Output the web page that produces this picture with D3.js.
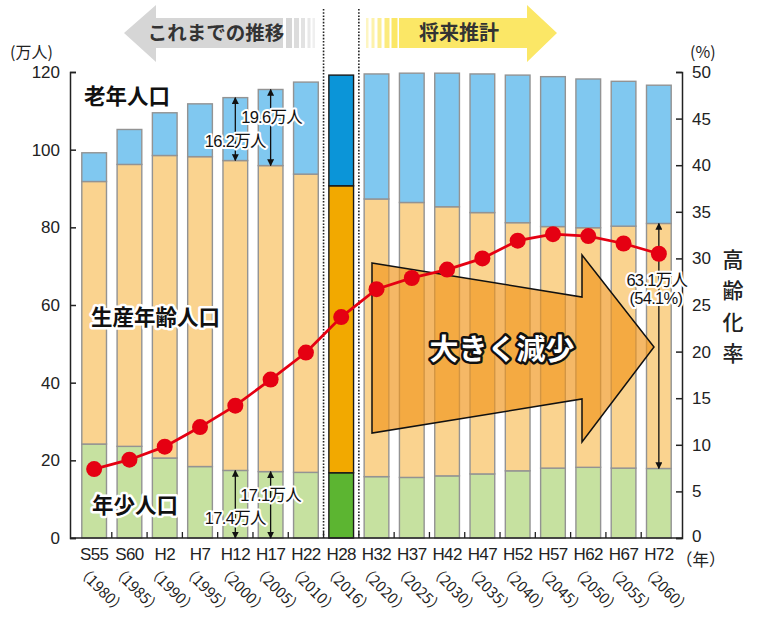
<!DOCTYPE html>
<html>
<head>
<meta charset="utf-8">
<script src="https://cdn.jsdelivr.net/npm/d3@7/dist/d3.min.js"></script>
<style>
  html, body { margin: 0; padding: 0; background: #fff; }
  svg { display: block; }
  text { font-family: "Liberation Sans", "Noto Sans CJK JP", sans-serif; }
  .jp { font-family: "Noto Sans CJK JP", sans-serif; }
</style>
</head>
<body>
<svg id="chart" width="758" height="622"></svg>
<script>
// Period labels (Japanese era) and western years
const eraLabels = ["S55","S60","H2","H7","H12","H17","H22","H28","H32","H37","H42","H47","H52","H57","H62","H67","H72"];
const westernYears = ["1980","1985","1990","1995","2000","2005","2010","2016","2020","2025","2030","2035","2040","2045","2050","2055","2060"];

// Population by age group (万人)
const youngPop   = [24.2, 23.6, 20.6, 18.4, 17.4, 17.1, 16.9, 16.8, 15.8, 15.6, 16.0, 16.5, 17.3, 18.0, 18.2, 18.0, 17.9];
const workingPop = [67.6, 72.6, 77.9, 79.8, 79.8, 78.8, 76.8, 73.9, 71.5, 70.8, 69.3, 67.3, 63.9, 62.2, 61.7, 62.3, 63.1];
const elderlyPop = [ 7.4,  9.0, 11.0, 13.6, 16.2, 19.6, 23.7, 28.5, 32.2, 33.3, 34.4, 35.7, 38.0, 38.6, 38.3, 37.3, 35.6];

// Aging rate (%)
const agingRate  = [7.4, 8.4, 9.8, 11.9, 14.2, 17.0, 19.9, 23.7, 26.7, 27.9, 28.8, 30.0, 31.9, 32.6, 32.4, 31.6, 30.5];

const leftTicks  = [0, 20, 40, 60, 80, 100, 120];
const rightTicks = [0, 5, 10, 15, 20, 25, 30, 35, 40, 45, 50];

const currentYear = "H28";

const svg = d3.select("#chart");

const x = d3.scaleBand().domain(eraLabels).range([76.5, 676.5]).paddingInner(0.3).paddingOuter(0.15);
const y = d3.scaleLinear().domain([0, 120]).range([538, 72]);
const yR = d3.scaleLinear().domain([0, 50]).range([538, 72]);
const step = x.step();
const bw = x.bandwidth();
const cx = d => x(d) + bw / 2;

const rows = eraLabels.map((e, i) => ({ era: e, young: youngPop[i], working: workingPop[i], elderly: elderlyPop[i] }));
const keys = ["young", "working", "elderly"];
const stack = d3.stack().keys(keys)(rows);

const lightColors = { young: "#c6e1a0", working: "#fad38f", elderly: "#80c8f0" };
const strongColors = { young: "#5cb531", working: "#f2a900", elderly: "#0b95d8" };

// ---- header arrows ----
const hdr = svg.append("g");
// past (grey, pointing left)
hdr.append("path")
  .attr("d", "M124,33 L156,5 L156,18 L283,18 L283,48 L156,48 L156,62 Z")
  .attr("fill", "#d6d6d6");
[[286, 6, 1], [294, 5, 0.85], [301, 4, 0.7], [307.5, 3, 0.55], [312.5, 2.5, 0.4]].forEach(([sx, w, o]) => {
  hdr.append("rect").attr("x", sx).attr("y", 18).attr("width", w).attr("height", 30)
    .attr("fill", "#d6d6d6").attr("opacity", o);
});
hdr.append("text").attr("class", "jp").attr("x", 216).attr("y", 33).attr("dy", "0.36em")
  .attr("text-anchor", "middle").attr("font-size", 19.5).attr("font-weight", 700)
  .attr("fill", "#333").text("これまでの推移");

// future (yellow, pointing right)
hdr.append("path")
  .attr("d", "M399,18 L527,18 L527,5 L557,33 L527,62 L527,48 L399,48 Z")
  .attr("fill", "#fbe766");
[[366, 2.5, 0.4], [371.5, 3, 0.55], [377.5, 4, 0.7], [384.5, 5, 0.85], [391.5, 6, 1]].forEach(([sx, w, o]) => {
  hdr.append("rect").attr("x", sx).attr("y", 18).attr("width", w).attr("height", 30)
    .attr("fill", "#fbe766").attr("opacity", o);
});
hdr.append("text").attr("class", "jp").attr("x", 459).attr("y", 33).attr("dy", "0.36em")
  .attr("text-anchor", "middle").attr("font-size", 20).attr("font-weight", 700)
  .attr("fill", "#333").text("将来推計");

// ---- stacked bars ----
const barG = svg.append("g");
stack.forEach(layer => {
  barG.selectAll(null).data(layer).join("rect")
    .attr("x", d => x(d.data.era))
    .attr("width", bw)
    .attr("y", d => y(d[1]))
    .attr("height", d => y(d[0]) - y(d[1]))
    .attr("fill", d => d.data.era === currentYear ? strongColors[layer.key] : lightColors[layer.key])
    .attr("stroke", d => d.data.era === currentYear ? "#1a1a1a" : "#939393")
    .attr("stroke-width", 1.4);
});

// dotted separators around the current year
const cur = x(currentYear);
[cur - step * 0.15, cur + bw + step * 0.15].forEach(px => {
  svg.append("line").attr("x1", px).attr("x2", px).attr("y1", 9).attr("y2", 538)
    .attr("stroke", "#222").attr("stroke-width", 1.6).attr("stroke-dasharray", "1.6,1.6");
});

// ---- axes ----
const leftAxis = d3.axisLeft(y).tickValues(leftTicks).tickSize(-6).tickSizeOuter(-6).tickPadding(10);
const gL = svg.append("g").attr("transform", "translate(70,0)").call(leftAxis);
const rightAxis = d3.axisRight(yR).tickValues(rightTicks).tickSize(-6).tickSizeOuter(-6).tickPadding(10);
const gR = svg.append("g").attr("transform", "translate(682,0)").call(rightAxis);
[gL, gR].forEach(g => {
  g.selectAll("path, line").attr("stroke", "#222").attr("stroke-width", 1.5);
  g.selectAll("text").attr("font-size", 17).attr("fill", "#222");
});
gR.selectAll(".tick text").filter(d => d === 0).attr("dy", "0.2em");

// baseline and inter-bar ticks
svg.append("line").attr("x1", 70).attr("x2", 682).attr("y1", 538).attr("y2", 538)
  .attr("stroke", "#222").attr("stroke-width", 1.6);
svg.append("g").selectAll("line").data(eraLabels.slice(1)).join("line")
  .attr("x1", d => x(d) - step * 0.15).attr("x2", d => x(d) - step * 0.15)
  .attr("y1", 538).attr("y2", 532).attr("stroke", "#222").attr("stroke-width", 1.3);

const bottomAxis = d3.axisBottom(x).tickSize(0).tickPadding(10);
const gB = svg.append("g").attr("transform", "translate(0,538)").call(bottomAxis);
gB.select(".domain").remove();
gB.selectAll("text").attr("font-size", 17).attr("letter-spacing", "-0.6px").attr("fill", "#222");

// western years, rotated
svg.append("g").selectAll("text").data(westernYears).join("text")
  .attr("class", "jp")
  .attr("transform", (d, i) => `translate(${cx(eraLabels[i]) - 19},571) rotate(45)`)
  .attr("font-size", 15).attr("fill", "#222")
  .text(d => "（" + d + "）");

svg.append("text").attr("class", "jp").attr("x", 676).attr("y", 566).attr("font-size", 16.5).attr("fill", "#222").text("（年）");
svg.append("text").attr("class", "jp").attr("x", 10).attr("y", 58).attr("font-size", 16).attr("fill", "#222").text("(万人)");
svg.append("text").attr("class", "jp").attr("x", 690).attr("y", 58).attr("font-size", 16).attr("fill", "#222").text("(%)");
["高", "齢", "化", "率"].forEach((c, i) => {
  svg.append("text").attr("class", "jp").attr("x", 733).attr("y", 259 + i * 31.5).attr("dy", "0.38em")
    .attr("text-anchor", "middle").attr("font-size", 21).attr("font-weight", 500).attr("fill", "#222").text(c);
});

// ---- big decline arrow ----
svg.append("path")
  .attr("d", "M372,263 L582,297 L582,255 L654,347 L582,442 L582,399 L372,433 Z")
  .attr("fill", "rgb(240,150,30)").attr("fill-opacity", 0.68)
  .attr("stroke", "#111").attr("stroke-width", 1.5).attr("stroke-linejoin", "miter");

// ---- annotation arrows ----
const defs = svg.append("defs");
defs.append("marker").attr("id", "ah").attr("viewBox", "0 0 10 10").attr("refX", 9).attr("refY", 5)
  .attr("markerWidth", 7).attr("markerHeight", 7).attr("markerUnits", "userSpaceOnUse").attr("orient", "auto-start-reverse")
  .append("path").attr("d", "M0,0 L10,5 L0,10 Z").attr("fill", "#111");

const idx = e => eraLabels.indexOf(e);
function vArrow(era, v0, v1) {
  svg.append("line").attr("x1", cx(era)).attr("x2", cx(era)).attr("y1", y(v0)).attr("y2", y(v1))
    .attr("stroke", "#111").attr("stroke-width", 1.3)
    .attr("marker-start", "url(#ah)").attr("marker-end", "url(#ah)");
}
// elderly and young spans for H12, H17
["H12", "H17"].forEach(e => {
  const i = idx(e);
  vArrow(e, youngPop[i] + workingPop[i], youngPop[i] + workingPop[i] + elderlyPop[i]);
  vArrow(e, 0, youngPop[i]);
});
// working-age span H72
{
  const i = idx("H72");
  vArrow("H72", youngPop[i], youngPop[i] + workingPop[i]);
}

// ---- aging rate line ----
const line = d3.line().x((d, i) => cx(eraLabels[i])).y(d => yR(d));
svg.append("path").datum(agingRate).attr("d", line)
  .attr("fill", "none").attr("stroke", "#e50012").attr("stroke-width", 2.8);
svg.append("g").selectAll("circle").data(agingRate).join("circle")
  .attr("cx", (d, i) => cx(eraLabels[i])).attr("cy", d => yR(d)).attr("r", 8)
  .attr("fill", "#e50012");

// ---- text labels ----
function halo(sel, w) {
  return sel.attr("stroke", "#fff").attr("stroke-width", w).attr("stroke-linejoin", "round").attr("paint-order", "stroke");
}
function groupLabel(t, px, py) {
  halo(svg.append("text").attr("class", "jp").attr("x", px).attr("y", py).attr("dy", "0.36em")
    .attr("font-size", 21.5).attr("font-weight", 700).attr("fill", "#111").text(t), 5);
}
groupLabel("老年人口", 84, 96);
groupLabel("生産年齢人口", 91, 317);
groupLabel("年少人口", 92, 505);

function note(t, px, py) {
  halo(svg.append("text").attr("x", px).attr("y", py).attr("dy", "0.36em").attr("text-anchor", "middle")
    .attr("font-size", 16.5).attr("letter-spacing", "-0.7px").attr("fill", "#111").text(t), 4);
}
{
  const i12 = idx("H12"), i17 = idx("H17"), i72 = idx("H72");
  note(elderlyPop[i12].toFixed(1) + "万人", cx("H12"), 141);
  note(elderlyPop[i17].toFixed(1) + "万人", cx("H17") + 1, 117);
  note(youngPop[i12].toFixed(1) + "万人", cx("H12"), 518);
  note(youngPop[i17].toFixed(1) + "万人", cx("H17"), 495);
  const total72 = youngPop[i72] + workingPop[i72] + elderlyPop[i72];
  note(workingPop[i72].toFixed(1) + "万人", cx("H72") - 2, 280);
  note("(" + (workingPop[i72] / total72 * 100).toFixed(1) + "%)", cx("H72") - 3, 298);
}

// big arrow caption
svg.append("text").attr("class", "jp").attr("x", 502).attr("y", 350).attr("dy", "0.36em")
  .attr("text-anchor", "middle").attr("font-size", 29).attr("font-weight", 700)
  .attr("fill", "#fff").attr("stroke", "#111").attr("stroke-width", 5)
  .attr("stroke-linejoin", "round").attr("paint-order", "stroke").text("大きく減少");
</script>
</body>
</html>
